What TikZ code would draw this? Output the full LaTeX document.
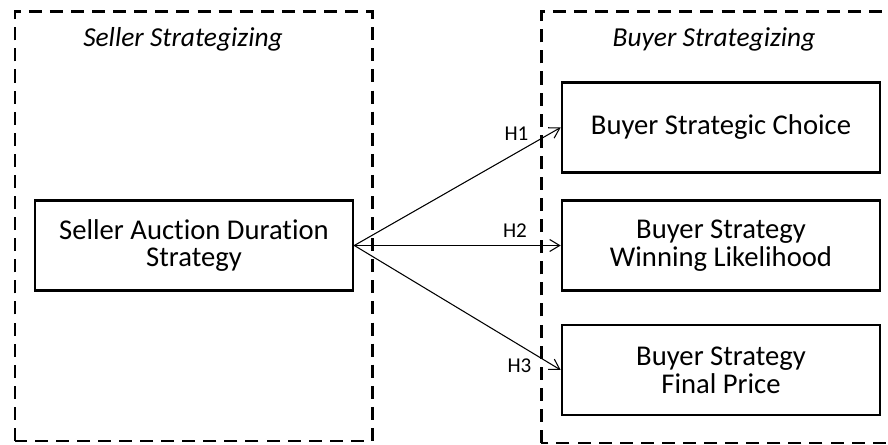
\documentclass[tikz,border=0pt]{standalone}
\usepackage{fontspec}
\setmainfont{Carlito}[Ligatures=NoCommon]
\usetikzlibrary{arrows.meta}

\tikzset{
    group/.style={draw, line width=1.7pt, dash pattern=on 7.4pt off 4.6pt},
    grouptitle/.style={anchor=base, font=\fontsize{15.6}{18}\selectfont\itshape},
    construct/.style={draw, line width=1.5pt, minimum width=6.36cm, minimum height=1.8cm,
        align=center, inner sep=0pt, font=\fontsize{16.3}{15.8}\selectfont},
    hyp/.style={line width=0.6pt, -{Straight Barb[length=2mm,width=2.4mm]}},
    hyplabel/.style={anchor=base, inner sep=0pt, font=\fontsize{12}{14}\selectfont}
}

\begin{document}
\begin{tikzpicture}
    \useasboundingbox (0,0) rectangle (17.76,8.9);

    % the two dashed groups (the right one runs off the page)
    \draw [group] (0.3,0.08) rectangle (7.44,8.66);
    \draw [group] (10.82,0.04) rectangle (18.3,8.66);
    \node [grouptitle] (sellertitle) at (3.66,7.96) {Seller Strategizing};
    \node [grouptitle] (buyertitle) at (14.28,7.96) {Buyer Strategizing};

    % constructs
    \node [construct] (seller) at (3.88,3.99) {Seller Auction Duration\\Strategy};
    \node [construct] (choice) at (14.42,6.35) {Buyer Strategic Choice};
    \node [construct] (winning) at (14.42,3.99) {Buyer Strategy\\Winning Likelihood};
    \node [construct] (price) at (14.42,1.5) {Buyer Strategy\\Final Price};

    % hypotheses
    \draw [hyp] (seller.east) -- (choice.west);
    \draw [hyp] (seller.east) -- (winning.west);
    \draw [hyp] (seller.east) -- (price.west);
    \node [hyplabel] (h1) at (10.33,6.09) {H1};
    \node [hyplabel] (h2) at (10.30,4.15) {H2};
    \node [hyplabel] (h3) at (10.39,1.44) {H3};

\end{tikzpicture}
\end{document}
